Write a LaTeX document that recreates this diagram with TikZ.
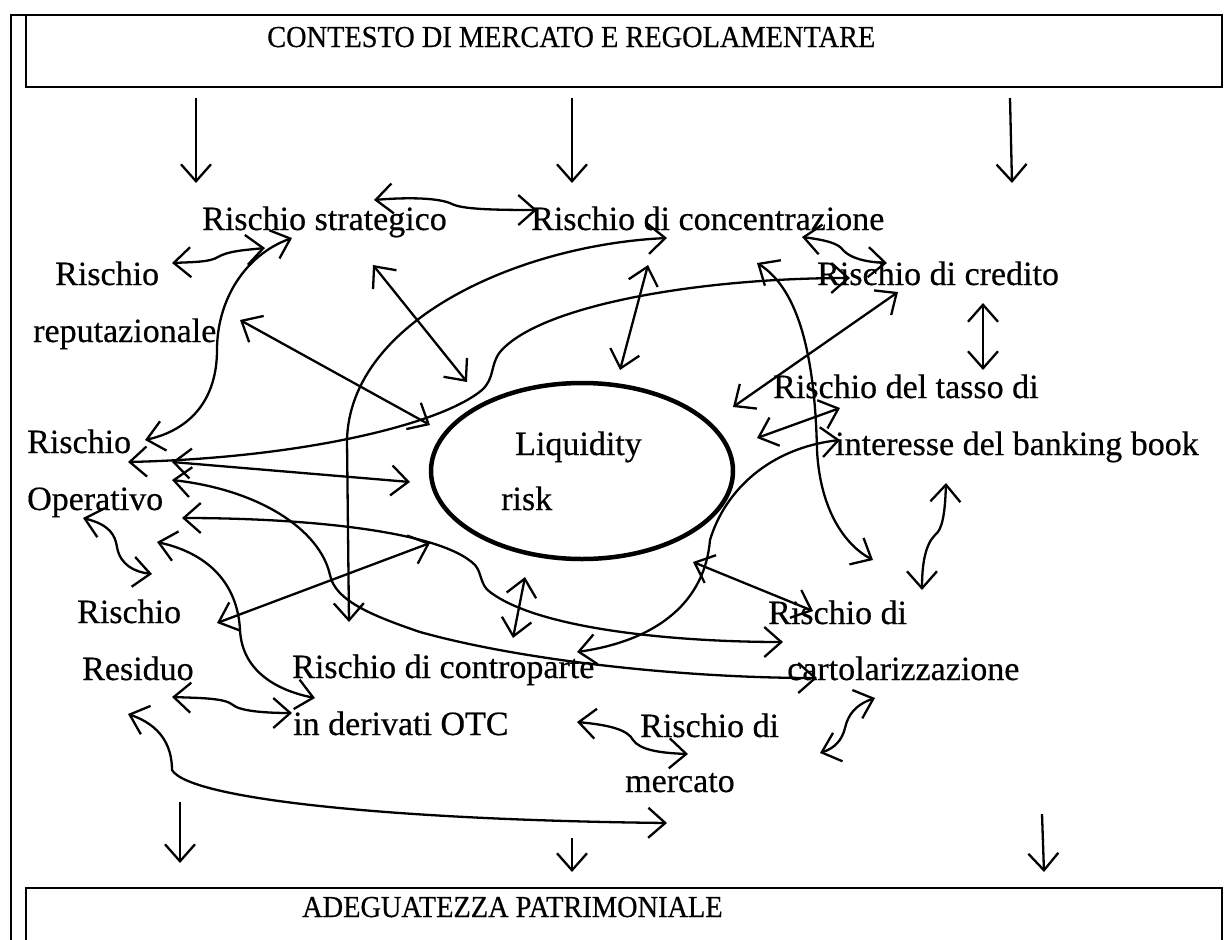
\documentclass[tikz,border=0pt]{standalone}
\usepackage{fontspec}
\setmainfont[FakeBold=0.5]{Liberation Serif}
\newfontfamily\headfont[FakeStretch=0.93,FakeBold=0.5]{Liberation Serif}
\usetikzlibrary{arrows.meta,shapes.geometric}
\begin{document}
\begin{tikzpicture}[x=1pt,y=-1pt,
  lbl/.style={anchor=base west, inner sep=0pt, font=\fontsize{34}{40}\selectfont},
  ttl/.style={anchor=base west, inner sep=0pt, font=\headfont\fontsize{30.5}{36}\selectfont},
  frame/.style={line width=2.3pt},
  barb/.tip={Straight Barb[length=17pt,width=30pt]},
  link/.style={line width=2.3pt, barb-barb},
  flow/.style={line width=2.3pt, -barb},
]
\useasboundingbox (0,0) rectangle (1224,940);

% frames
\draw[frame] (11,940) -- (11,15) -- (1222,15);
\draw[frame] (26,15) rectangle (1222,87);
\draw[frame] (26,940) -- (26,888) -- (1222,888) -- (1222,940);

% titles
\node[ttl] (ctx) at (267,47) {CONTESTO DI MERCATO E REGOLAMENTARE};
\node[ttl] (cap) at (302,917) {ADEGUATEZZA PATRIMONIALE};

% central risk
\node[draw, ellipse, line width=4.5pt, inner sep=0pt,
      minimum width=302pt, minimum height=176pt] (liq) at (582,471) {};
\node[lbl] (liqA) at (515,455) {Liquidity};
\node[lbl] (liqB) at (501,510) {risk};

% risk labels
\node[lbl] (strat) at (202,230) {Rischio strategico};
\node[lbl] (conc)  at (531,230) {Rischio di concentrazione};
\node[lbl] (repA)  at (55,285)  {Rischio};
\node[lbl] (repB)  at (33,342)  {reputazionale};
\node[lbl] (cred)  at (817,285) {Rischio di credito};
\node[lbl] (tasA)  at (773,398) {Rischio del tasso di};
\node[lbl] (tasB)  at (835,455) {interesse del banking book};
\node[lbl] (opA)   at (27,453)  {Rischio};
\node[lbl] (opB)   at (27,510)  {Operativo};
\node[lbl] (resA)  at (77,623)  {Rischio};
\node[lbl] (resB)  at (82,680)  {Residuo};
\node[lbl] (carA)  at (768,624) {Rischio di};
\node[lbl] (carB)  at (787,680) {cartolarizzazione};
\node[lbl] (cpA)   at (292,678) {Rischio di controparte};
\node[lbl] (cpB)   at (293,735) {in derivati OTC};
\node[lbl] (merA)  at (640,737) {Rischio di};
\node[lbl] (merB)  at (625,792) {mercato};

% inflow from the context box
\draw[flow] (196,98) -- (196,183);
\draw[flow] (572,98) -- (572,183);
\draw[flow] (1010,98) -- (1012,183);

% outflow to capital adequacy
\draw[flow] (180,802) -- (180,863);
\draw[flow] (572,838) -- (572,872);
\draw[flow] (1042,814) -- (1044,872);

% interactions between risks
\draw[link] (374,200) .. controls (410,197) and (440,198) .. (452,204)
                      .. controls (462,209) and (490,210) .. (537,210);
\draw[link] (172,263) .. controls (195,262) and (210,262) .. (218,257)
                      .. controls (228,251) and (245,250) .. (265,248);
\draw[link] (292,238) .. controls (245,255) and (217,300) .. (217,350)
                      .. controls (217,400) and (190,430) .. (145,440);
\draw[link] (373,265) -- (467,382);
\draw[link] (240,320) -- (430,425);
\draw[link] (648,265) -- (620,370);
\draw[link] (128,462) .. controls (300,458) and (440,425) .. (482,390)
                      .. controls (495,378) and (490,365) .. (500,352)
                      .. controls (540,305) and (700,278) .. (850,278);
\draw[link] (172,462) -- (410,482);
\draw[link] (182,518) .. controls (300,518) and (440,530) .. (475,565)
                      .. controls (482,573) and (480,585) .. (490,592)
                      .. controls (540,630) and (680,642) .. (783,642);
\draw[link] (172,480) .. controls (260,490) and (320,530) .. (330,575)
                      .. controls (335,600) and (370,615) .. (420,632)
                      .. controls (520,660) and (680,678) .. (817,678);
\draw[link] (217,623) -- (430,543);
\draw[link] (83,518) .. controls (110,525) and (115,535) .. (117,547)
                     .. controls (120,565) and (135,572) .. (152,574);
\draw[link] (157,542) .. controls (215,555) and (238,590) .. (240,630)
                      .. controls (242,670) and (275,690) .. (315,698);
\draw[link] (172,697) .. controls (200,698) and (225,698) .. (233,705)
                      .. controls (240,711) and (265,713) .. (292,713);
\draw[link] (667,238) .. controls (520,245) and (350,320) .. (347,440)
                      -- (349,622);
\draw[link] (802,237) .. controls (825,240) and (838,243) .. (843,250)
                      .. controls (850,258) and (865,262) .. (887,263);
\draw[link] (757,263) .. controls (800,290) and (815,360) .. (817,450)
                      .. controls (820,510) and (845,545) .. (873,560);
\draw[link] (898,292) -- (733,407);
\draw[link] (983,303) -- (983,370);
\draw[link] (757,438) -- (840,408);
\draw[link] (840,440) .. controls (770,448) and (725,490) .. (710,540)
                      .. controls (705,600) and (660,640) .. (577,652);
\draw[link] (693,562) -- (813,611);
\draw[link] (525,577) -- (513,638);
\draw[link] (946,483) .. controls (945,515) and (942,530) .. (935,535)
                      .. controls (925,545) and (922,565) .. (922,590);
\draw[link] (875,698) .. controls (855,705) and (848,715) .. (845,728)
                      .. controls (842,740) and (835,748) .. (820,753);
\draw[link] (577,722) .. controls (610,725) and (628,730) .. (633,740)
                      .. controls (640,750) and (660,753) .. (688,754);
\draw[link] (128,714) .. controls (160,725) and (172,745) .. (172,770)
                      .. controls (190,800) and (400,820) .. (667,823);
\end{tikzpicture}
\end{document}
